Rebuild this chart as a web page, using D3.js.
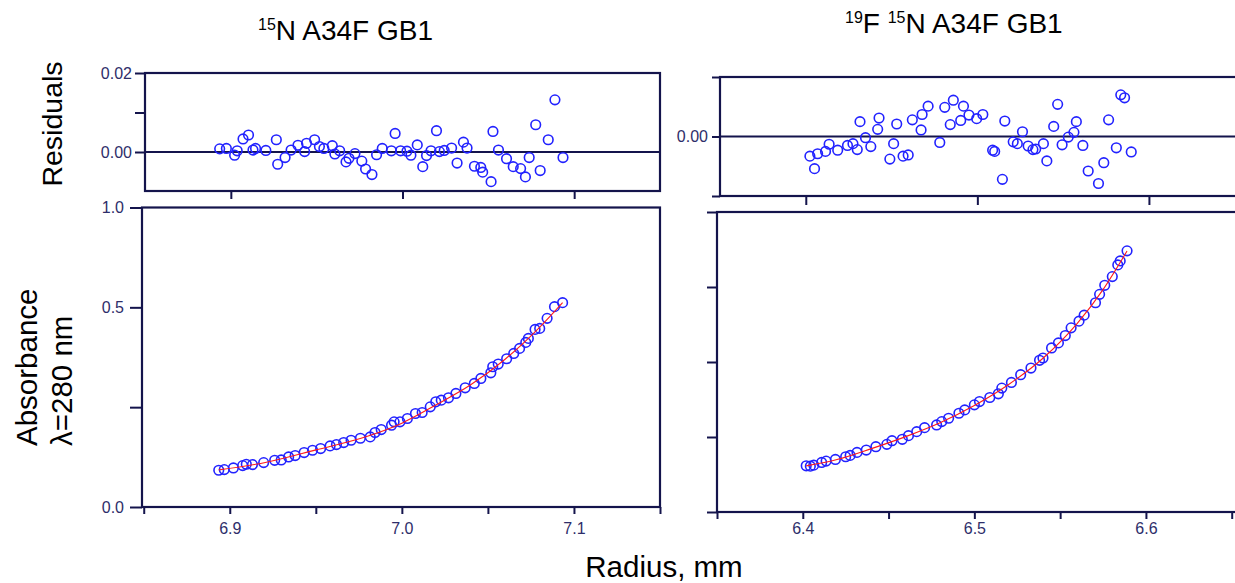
<!DOCTYPE html>
<html>
<head>
<meta charset="utf-8">
<script src="https://cdn.jsdelivr.net/npm/d3@7"></script>
<style>
  body { margin: 0; background: #fff; }
  svg text { font-family: "Liberation Sans", Arial, sans-serif; }
</style>
</head>
<body>
<svg width="1235" height="583"></svg>
<script>
// ---- left sample: 15N A34F GB1 ----
const leftRadius = [6.8936, 6.8968, 6.9021, 6.9075, 6.9096, 6.9132, 6.9197, 6.9261, 6.9299, 6.9342,
  6.938, 6.9432, 6.9481, 6.9528, 6.9583, 6.962, 6.9662, 6.9705, 6.9759, 6.9816,
  6.9844, 6.988, 6.994, 6.9955, 6.9989, 7.0032, 7.0079, 7.0118, 7.0165, 7.0197,
  7.0229, 7.0271, 7.0314, 7.0368, 7.0421, 7.0459, 7.0517, 7.0528, 7.056, 7.0609,
  7.065, 7.0684, 7.072, 7.0735, 7.0774, 7.0801, 7.0844, 7.0887, 7.0934]
const leftAbs = [0.092, 0.0936, 0.0978, 0.1037, 0.107, 0.1062, 0.1112, 0.117, 0.1179, 0.1254,
  0.1288, 0.1363, 0.1421, 0.1463, 0.153, 0.1564, 0.1614, 0.1672, 0.1722, 0.1756,
  0.1865, 0.194, 0.2048, 0.2132, 0.2132, 0.2216, 0.2341, 0.2366, 0.2508, 0.2634,
  0.2676, 0.2734, 0.2843, 0.2985, 0.3094, 0.3219, 0.3361, 0.3512, 0.3579, 0.3712,
  0.3846, 0.3972, 0.4122, 0.4222, 0.4448, 0.4473, 0.4724, 0.5017, 0.5117]
const leftFitRadius = [6.8936, 6.92, 6.95, 6.98, 7.0, 7.02, 7.04, 7.06, 7.08, 7.0934]
const leftFitAbs = [0.093, 0.111, 0.143, 0.177, 0.210, 0.256, 0.306, 0.370, 0.450, 0.512]
const leftResRadius = [6.8935, 6.8974, 6.9022, 6.9037, 6.9071, 6.9103, 6.9129, 6.9144, 6.9204, 6.9265,
  6.9273, 6.9316, 6.9351, 6.9391, 6.943, 6.9441, 6.9488, 6.9516, 6.9542, 6.9591,
  6.9606, 6.9634, 6.9671, 6.9688, 6.9723, 6.9763, 6.9785, 6.9822, 6.9849, 6.9882,
  6.9935, 6.9957, 6.9989, 7.0026, 7.0049, 7.0086, 7.0118, 7.014, 7.0166, 7.0198,
  7.0215, 7.0243, 7.0286, 7.0318, 7.0355, 7.0376, 7.0419, 7.0456, 7.0467, 7.0516,
  7.0527, 7.0559, 7.0606, 7.0645, 7.0688, 7.0716, 7.0738, 7.0776, 7.0802, 7.0849,
  7.0888, 7.0935]
const leftRes = [0.0008, 0.0009, -0.0008, 0.0003, 0.0033, 0.0043, 0.0005, 0.0009, 0.0004, 0.0031,
  -0.0031, -0.0014, 0.0005, 0.0017, 0.0001, 0.0022, 0.0031, 0.0014, 0.0009, 0.0016,
  -0.0005, 0.0003, -0.0025, -0.0016, -0.0004, -0.0023, -0.0043, -0.0057, -0.0007, 0.0009,
  0.0003, 0.0047, 0.0003, 0.0002, -0.0008, 0.0018, -0.0037, -0.0009, 0.0003, 0.0054,
  0.0001, 0.0004, 0.001, -0.0028, 0.0025, 0.001, -0.0036, -0.0039, -0.0051, -0.0075,
  0.0052, 0.0005, -0.0017, -0.0037, -0.0042, -0.0063, -0.0014, 0.0069, -0.0047, 0.0031,
  0.0132, -0.0014]

// ---- right sample: 19F 15N A34F GB1 ----
const rightRadius = [6.402, 6.4044, 6.4064, 6.411, 6.4136, 6.419, 6.425, 6.4276, 6.4316, 6.437,
  6.4426, 6.449, 6.452, 6.458, 6.4616, 6.4664, 6.471, 6.478, 6.481, 6.485,
  6.491, 6.4944, 6.5, 6.503, 6.509, 6.514, 6.516, 6.5216, 6.527, 6.533,
  6.538, 6.54, 6.545, 6.549, 6.553, 6.5564, 6.561, 6.564, 6.5706, 6.573,
  6.576, 6.5804, 6.5836, 6.585, 6.589]
const rightAbs = [0.1232, 0.1223, 0.125, 0.1321, 0.1357, 0.1402, 0.1473, 0.1509, 0.1589, 0.1652,
  0.1741, 0.1804, 0.1902, 0.1938, 0.2036, 0.2143, 0.225, 0.2321, 0.2411, 0.25,
  0.2634, 0.2723, 0.2857, 0.2946, 0.3054, 0.3152, 0.3304, 0.3455, 0.3661, 0.3839,
  0.4045, 0.4107, 0.4375, 0.4509, 0.4705, 0.4911, 0.5089, 0.525, 0.558, 0.5804,
  0.6045, 0.6277, 0.6589, 0.6696, 0.6964]
const rightFitRadius = [6.402, 6.42, 6.44, 6.46, 6.48, 6.5, 6.52, 6.54, 6.56, 6.575, 6.589]
const rightFitAbs = [0.123, 0.140, 0.169, 0.201, 0.238, 0.284, 0.340, 0.410, 0.503, 0.593, 0.696]
const rightResRadius = [6.4024, 6.4051, 6.4069, 6.4115, 6.4136, 6.4186, 6.4243, 6.4275, 6.43, 6.4316,
  6.4348, 6.4379, 6.4419, 6.4427, 6.449, 6.4512, 6.453, 6.4567, 6.4597, 6.4621,
  6.4672, 6.4678, 6.4713, 6.4781, 6.481, 6.4842, 6.486, 6.4903, 6.4919, 6.4951,
  6.4996, 6.5032, 6.5089, 6.5101, 6.5146, 6.516, 6.5209, 6.5233, 6.5263, 6.5296,
  6.5324, 6.534, 6.5385, 6.5405, 6.5445, 6.5468, 6.5494, 6.553, 6.5563, 6.5577,
  6.5615, 6.5646, 6.5706, 6.5737, 6.5765, 6.581, 6.5836, 6.5858, 6.5897]
const rightRes = [-0.0033, -0.0054, -0.0029, -0.0025, -0.0013, -0.0023, -0.0015, -0.0012, -0.0022, 0.0025,
  -0.0002, -0.0017, 0.0012, 0.0031, -0.0038, -0.0012, 0.0021, -0.0033, -0.0031, 0.0028,
  0.0011, 0.0037, 0.0051, -0.001, 0.0049, 0.002, 0.0061, 0.0027, 0.0051, 0.0036,
  0.003, 0.0037, -0.0023, -0.0025, -0.0072, 0.0026, -0.0009, -0.0012, 0.0008, -0.0016,
  -0.0022, -0.0021, -0.0012, -0.0041, 0.0017, 0.0054, -0.0014, -0.0001, 0.0007, 0.0025,
  -0.0015, -0.0058, -0.0079, -0.0044, 0.0028, -0.0019, 0.007, 0.0065, -0.0026]

// ---- ticks ----
const leftXTicks = [6.85, 6.9, 6.95, 7.0, 7.05, 7.1, 7.15]
const leftXLabels = ['', '6.9', '', '7.0', '', '7.1', '']
const rightXTicks = [6.35, 6.4, 6.45, 6.5, 6.55, 6.6, 6.65]
const rightXLabels = ['', '6.4', '', '6.5', '', '6.6', '']
const leftResXTicks = [6.9, 7.0, 7.1]
const rightResXTicks = [6.4, 6.5, 6.6]
const leftResYTicks = [0, 0.01, 0.02]
const leftResYLabels = ['0.00', '', '0.02']
const leftAbsYTicks = [0, 0.25, 0.5, 0.75]
const leftAbsYLabels = ['0.0', '', '0.5', '1.0']
const rightResYTicks = [-0.01, 0, 0.01]
const rightResYLabels = ['', '0.00', '']
const rightAbsYTicks = [0, 0.2, 0.4, 0.6, 0.8]
const rightAbsYLabels = ['', '', '', '', '']

const svg = d3.select('svg');
const navy = '#14144c';
const tickText = '#2e2e6a';
const blue = '#2222ff';

function drawPanel(p) {
  const x = d3.scaleLinear().domain(p.xDomain).range([p.left, p.right]);
  const y = d3.scaleLinear().domain(p.yDomain).range([p.bottom, p.top]);
  const g = svg.append('g');

  // y axis
  const yAxis = d3.axisLeft(y)
    .tickValues(p.yTicks)
    .tickFormat(d => p.yLabels[p.yTicks.indexOf(d)])
    .tickSize(p.yTickLen)
    .tickPadding(p.yPad);
  g.append('g')
    .attr('transform', `translate(${p.left},0)`)
    .call(yAxis)
    .call(s => s.select('.domain').remove());

  // x axis
  const xAxis = d3.axisBottom(x)
    .tickValues(p.xTicks)
    .tickFormat(d => p.xLabels ? p.xLabels[p.xTicks.indexOf(d)] : '')
    .tickSize(p.xTickLen)
    .tickPadding(p.xPad || 3);
  g.append('g')
    .attr('transform', `translate(0,${p.bottom})`)
    .call(xAxis)
    .call(s => s.select('.domain').remove());

  g.selectAll('.tick line').attr('stroke', navy).attr('stroke-width', 2);
  g.selectAll('.tick text').attr('fill', tickText).style('font-size', '16px');

  // frame
  g.append('rect')
    .attr('x', p.left).attr('y', p.top)
    .attr('width', p.right - p.left).attr('height', p.bottom - p.top)
    .attr('fill', 'none').attr('stroke', navy).attr('stroke-width', 2.2);

  if (p.zero) {
    g.append('line')
      .attr('x1', p.left).attr('x2', p.right)
      .attr('y1', y(0)).attr('y2', y(0))
      .attr('stroke', navy).attr('stroke-width', 2);
  }

  // points
  g.append('g').selectAll('circle')
    .data(d3.zip(p.xs, p.ys))
    .join('circle')
      .attr('cx', d => x(d[0]))
      .attr('cy', d => y(d[1]))
      .attr('r', 4.8)
      .attr('fill', 'none')
      .attr('stroke', blue)
      .attr('stroke-width', 1.6);

  // fitted curve
  if (p.fitX) {
    const line = d3.line()
      .x(d => x(d[0]))
      .y(d => y(d[1]))
      .curve(d3.curveMonotoneX);
    g.append('path')
      .datum(d3.zip(p.fitX, p.fitY))
      .attr('d', line)
      .attr('fill', 'none')
      .attr('stroke', '#ff1a1a')
      .attr('stroke-width', 1.1);
  }
}

// residuals, left
drawPanel({
  left: 145, right: 660, top: 73, bottom: 191,
  xDomain: [6.85, 7.15], yDomain: [-0.00987, 0.02],
  xTicks: leftResXTicks, xTickLen: 8,
  yTicks: leftResYTicks, yLabels: leftResYLabels, yTickLen: 10, yPad: 3,
  xs: leftResRadius, ys: leftRes, zero: true
});
// absorbance, left
drawPanel({
  left: 142, right: 660, top: 207.5, bottom: 507,
  xDomain: [6.849, 7.15], yDomain: [0, 0.75],
  xTicks: leftXTicks, xLabels: leftXLabels, xTickLen: 7, xPad: 9,
  yTicks: leftAbsYTicks, yLabels: leftAbsYLabels, yTickLen: 12, yPad: 6,
  xs: leftRadius, ys: leftAbs, fitX: leftFitRadius, fitY: leftFitAbs
});
// residuals, right
drawPanel({
  left: 720, right: 1245, top: 77, bottom: 196,
  xDomain: [6.35, 6.656], yDomain: [-0.01, 0.01],
  xTicks: rightResXTicks, xTickLen: 9,
  yTicks: rightResYTicks, yLabels: rightResYLabels, yTickLen: 8, yPad: 4,
  xs: rightResRadius, ys: rightRes, zero: true
});
// absorbance, right
drawPanel({
  left: 717, right: 1242, top: 212, bottom: 512,
  xDomain: [6.35, 6.656], yDomain: [0, 0.8],
  xTicks: rightXTicks, xLabels: rightXLabels, xTickLen: 7, xPad: 4,
  yTicks: rightAbsYTicks, yLabels: rightAbsYLabels, yTickLen: 10, yPad: 4,
  xs: rightRadius, ys: rightAbs, fitX: rightFitRadius, fitY: rightFitAbs
});

// titles
const t1 = svg.append('text').attr('x', 258).attr('y', 40).style('font-size', '28px').attr('fill', '#000');
t1.append('tspan').text('15').style('font-size', '16px').attr('dy', -10);
t1.append('tspan').text('N A34F GB1').attr('dy', 10);

const t2 = svg.append('text').attr('x', 845).attr('y', 33).style('font-size', '28px').attr('fill', '#000');
t2.append('tspan').text('19').style('font-size', '16px').attr('dy', -10);
t2.append('tspan').text('F ').attr('dy', 10);
t2.append('tspan').text('15').style('font-size', '16px').attr('dy', -10);
t2.append('tspan').text('N A34F GB1').attr('dy', 10);

// axis titles
svg.append('text')
  .attr('transform', 'translate(62,124) rotate(-90)')
  .attr('text-anchor', 'middle')
  .style('font-size', '28.5px')
  .text('Residuals');

svg.append('text')
  .attr('transform', 'translate(37,446) rotate(-90)')
  .style('font-size', '29.5px')
  .text('Absorbance');
svg.append('text')
  .attr('transform', 'translate(72,446) rotate(-90)')
  .style('font-size', '29.5px')
  .text('λ=280 nm');

svg.append('text')
  .attr('x', 664).attr('y', 577)
  .attr('text-anchor', 'middle')
  .style('font-size', '29.5px')
  .text('Radius, mm');
</script>
</body>
</html>
